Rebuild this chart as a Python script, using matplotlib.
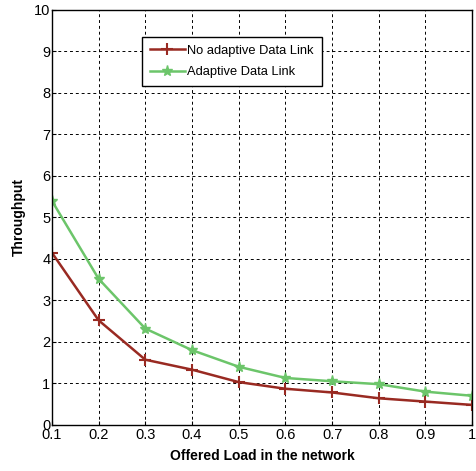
import numpy as np
import matplotlib
matplotlib.use("Agg")
import matplotlib.pyplot as plt

plt.rcParams['font.family'] = ['Liberation Sans', 'DejaVu Sans']

# Data
load = [0.1, 0.2, 0.3, 0.4, 0.5, 0.6, 0.7, 0.8, 0.9, 1.0]
no_adaptive = [4.15, 2.52, 1.57, 1.33, 1.03, 0.87, 0.78, 0.64, 0.56, 0.48]
adaptive = [5.4, 3.52, 2.32, 1.8, 1.4, 1.13, 1.05, 0.98, 0.8, 0.7]
x_ticks = [0.1, 0.2, 0.3, 0.4, 0.5, 0.6, 0.7, 0.8, 0.9, 1.0]
x_tick_labels = ['0.1', '0.2', '0.3', '0.4', '0.5', '0.6', '0.7', '0.8', '0.9', '1']

fig = plt.figure(figsize=(4.76, 4.71), dpi=100)
ax = fig.add_axes([0.109, 0.098, 0.883, 0.881])

ax.plot(load, no_adaptive, color='#992a22', marker='+', markersize=8,
        markeredgewidth=1.5, linewidth=1.8, label='No adaptive Data Link')
ax.plot(load, adaptive, color='#6cc56a', marker='*', markersize=8,
        linewidth=1.8, label='Adaptive Data Link')

ax.set_xlim(0.1, 1.0)
ax.set_ylim(0, 10)
ax.set_xticks(x_ticks)
ax.set_xticklabels(x_tick_labels)
ax.set_yticks(range(0, 11))
ax.tick_params(labelsize=10.5, direction='in', length=3)
ax.tick_params(axis='x', pad=2)
ax.tick_params(axis='y', pad=1)
ax.grid(True, linestyle=(0, (3, 3)), color='black', linewidth=0.7)
for s in ax.spines.values():
    s.set_linewidth(1.0)

ax.set_xlabel('Offered Load in the network', fontsize=10, fontweight='bold', labelpad=5)
ax.set_ylabel('Throughput', fontsize=10, fontweight='bold', labelpad=6)

leg = ax.legend(loc='upper left', bbox_to_anchor=(0.215, 0.935), fontsize=9.3,
                fancybox=False, framealpha=1, edgecolor='black',
                handlelength=2.7, borderpad=0.6, labelspacing=0.75,
                handletextpad=0.2, borderaxespad=0)
leg.get_frame().set_linewidth(1.0)

fig.savefig('out.png', dpi=100)
